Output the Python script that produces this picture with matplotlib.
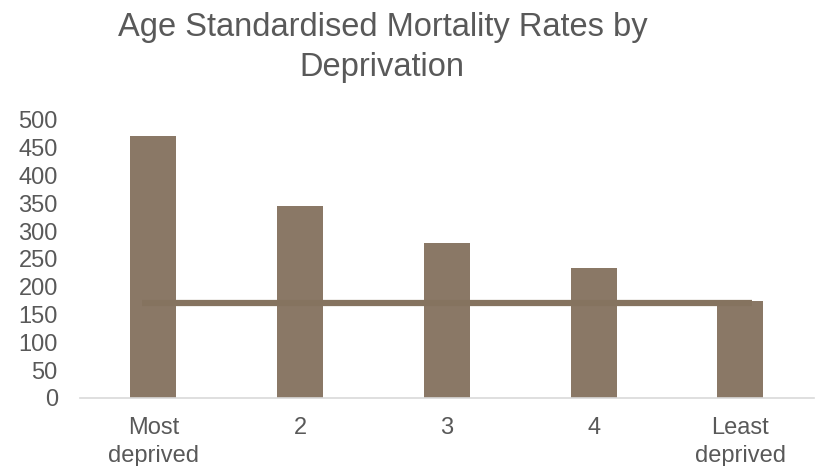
import matplotlib.pyplot as plt
import numpy as np

plt.rcParams['font.family'] = ['Liberation Sans', 'DejaVu Sans']

categories = ['Most\ndeprived', '2', '3', '4', 'Least\ndeprived']
rates = [472, 346, 279, 233, 175]
reference_rate = 171  # least deprived level, drawn as a line across

bar_color = '#8a7866'
text_color = '#595959'

fig = plt.figure(figsize=(8.17, 4.66), dpi=100)
ax = fig.add_axes([0.098, 0.146, 0.898, 0.5966])

x = np.arange(len(categories))
ax.bar(x, rates, width=0.313, color=bar_color, zorder=2)
ax.plot([x[0] - 0.08, x[-1] + 0.08], [reference_rate, reference_rate],
        color='#85735f', linewidth=4.5, solid_capstyle='butt', zorder=3)

ax.set_xlim(-0.5, len(categories) - 0.5)
ax.set_ylim(0, 500)
ax.set_yticks(range(0, 501, 50))
ax.set_xticks(x)
ax.set_xticklabels(categories, linespacing=1.3)
ax.tick_params(axis='both', length=0, labelsize=17, labelcolor=text_color)
ax.tick_params(axis='x', pad=14)
ax.tick_params(axis='y', pad=16)

for side in ['top', 'right', 'left']:
    ax.spines[side].set_visible(False)
ax.spines['bottom'].set_color('#d9d9d9')
ax.spines['bottom'].set_linewidth(1.2)

fig.text(0.468, 0.975, 'Age Standardised Mortality Rates by\nDeprivation',
         ha='center', va='top', fontsize=23.5, color=text_color, linespacing=1.37)

fig.savefig('out.png', dpi=100)
